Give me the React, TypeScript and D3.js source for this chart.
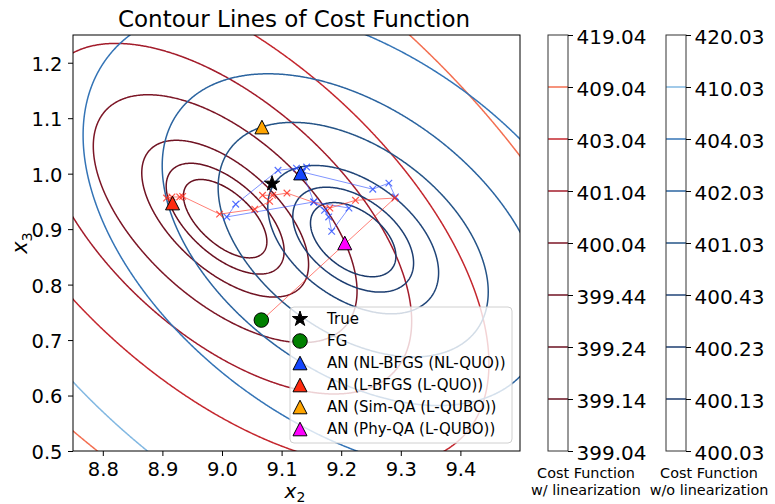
import React, { useEffect, useRef } from "react";
import * as d3 from "d3";

const size = { width: 775, height: 504 };
const frame = { left: 73, right: 520, top: 35, bottom: 451 };
const font = "DejaVu Sans";

const xDomain = [8.75, 9.5];
const yDomain = [0.5, 1.25];
const xTicks = [8.8, 8.9, 9.0, 9.1, 9.2, 9.3, 9.4];
const yTicks = [0.5, 0.6, 0.7, 0.8, 0.9, 1.0, 1.1, 1.2];

// quadratic fits of the two cost surfaces
// cost = min + kxx*dx^2 + kxy*dx*dy + kyy*dy^2
const linMin = 399.04;
const linCenter = [9.0045, 0.918];
const linCoef = [31.06, 35.99, 30.45];
const nlMin = 400.03;
const nlCenter = [9.2193, 0.8802];
const nlCoef = [24.3, 23.2, 27.9];

const linLevels = [399.14, 399.24, 399.44, 400.04, 401.04, 403.04, 409.04];
const linColors = ["#67101f", "#6a1121", "#701323", "#7c1626", "#a31c2b", "#c4272e", "#f36f51"];
const nlLevels = [400.13, 400.23, 400.43, 401.03, 402.03, 404.03, 410.03];
const nlColors = ["#1b3a6b", "#1d3e71", "#204578", "#255487", "#2b64a0", "#3474b6", "#82b8e2"];

const linTickLabels = ["399.04", "399.14", "399.24", "399.44", "400.04", "401.04", "403.04", "409.04", "419.04"];
const nlTickLabels = ["400.03", "400.13", "400.23", "400.43", "401.03", "402.03", "404.03", "410.03", "420.03"];

// iterates of the two solvers
const lbfgsX = [9.067, 9.29, 9.224, 9.181, 9.109, 9.085, 9.068, 9.08, 9.055, 8.996, 8.934, 8.929, 8.916, 8.907];
const lbfgsY = [0.736, 0.956, 0.952, 0.938, 0.965, 0.961, 0.961, 0.95, 0.936, 0.927, 0.959, 0.958, 0.958, 0.956];
const nlbfgsX = [9.291, 9.28, 9.253, 9.135, 9.154, 9.172, 9.179, 9.184, 9.213, 9.154, 9.008, 9.023, 9.094, 9.125, 9.135, 9.142];
const nlbfgsY = [0.958, 0.983, 0.972, 1.003, 0.949, 0.934, 0.922, 0.896, 0.938, 0.949, 0.922, 0.945, 1.006, 1.01, 1.006, 1.012];

const legendLabels = ["True", "FG", "AN (NL-BFGS (NL-QUO))", "AN (L-BFGS (L-QUO))", "AN (Sim-QA (L-QUBO))", "AN (Phy-QA (L-QUBO))"];
const markerKinds = ["star", "circle", "tri", "tri", "tri", "tri"];
const markerColors = ["#000000", "#008000", "#1446ff", "#ff2b0f", "#ffa500", "#ff00ff"];
const markerX = [9.084, 9.066, 9.132, 8.917, 9.067, 9.206];
const markerY = [0.982, 0.736, 1.001, 0.947, 1.084, 0.875];

function markerPath(kind: string) {
  if (kind === "star") return d3.symbol(d3.symbolStar, 72)()!;
  if (kind === "circle") return d3.symbol(d3.symbolCircle, 165)()!;
  const p = d3.path();
  p.moveTo(0, -6.8);
  p.lineTo(7, 6.8);
  p.lineTo(-7, 6.8);
  p.closePath();
  return p.toString();
}

export default function App() {
  const ref = useRef<SVGSVGElement>(null);

  useEffect(() => {
    const svg = d3.select(ref.current);
    svg.selectAll("*").remove();

    const x = d3.scaleLinear().domain(xDomain).range([frame.left, frame.right]);
    const y = d3.scaleLinear().domain(yDomain).range([frame.bottom, frame.top]);

    svg.append("rect").attr("width", size.width).attr("height", size.height).attr("fill", "#fff");

    svg
      .append("defs")
      .append("clipPath")
      .attr("id", "plot-clip")
      .append("rect")
      .attr("x", frame.left)
      .attr("y", frame.top)
      .attr("width", frame.right - frame.left)
      .attr("height", frame.bottom - frame.top);

    // contour grid, a bit larger than the axes so rings close outside the clip
    const n = 700;
    const m = 700;
    const gx = [8.55, 9.7];
    const gy = [0.3, 1.45];
    const stepX = (gx[1] - gx[0]) / (n - 1);
    const stepY = (gy[1] - gy[0]) / (m - 1);

    const field = (min: number, c: number[], k: number[]) => {
      const v = new Float64Array(n * m);
      for (let j = 0; j < m; j++) {
        const dy = gy[0] + j * stepY - c[1];
        for (let i = 0; i < n; i++) {
          const dx = gx[0] + i * stepX - c[0];
          v[i + j * n] = min + k[0] * dx * dx + k[1] * dx * dy + k[2] * dy * dy;
        }
      }
      return v;
    };

    const proj = d3.geoTransform({
      point: function (px: number, py: number) {
        this.stream.point(x(gx[0] + px * stepX), y(gy[0] + py * stepY));
      },
    });
    const path = d3.geoPath(proj);

    const plotG = svg.append("g").attr("clip-path", "url(#plot-clip)");

    const drawField = (values: Float64Array, levels: number[], colors: string[]) => {
      const cs = d3.contours().size([n, m]).thresholds(levels)(values as any);
      plotG
        .append("g")
        .selectAll("path")
        .data(cs)
        .join("path")
        .attr("d", (d: any) => path(d))
        .attr("fill", "none")
        .attr("stroke", (d, i) => colors[i])
        .attr("stroke-width", 1.5);
    };

    drawField(field(linMin, linCenter, linCoef), linLevels, linColors);
    drawField(field(nlMin, nlCenter, nlCoef), nlLevels, nlColors);

    // solver trajectories
    const traj = (xs: number[], ys: number[], color: string) => {
      const pts = xs.map((v, i) => [x(v), y(ys[i])] as [number, number]);
      plotG
        .append("path")
        .attr("d", d3.line()(pts))
        .attr("fill", "none")
        .attr("stroke", color)
        .attr("stroke-opacity", 0.6)
        .attr("stroke-width", 1);
      plotG
        .append("g")
        .selectAll("path")
        .data(pts)
        .join("path")
        .attr("d", d3.symbol(d3.symbolX, 30)())
        .attr("transform", (d) => `translate(${d[0]},${d[1]})`)
        .attr("fill", "none")
        .attr("stroke", color)
        .attr("stroke-opacity", 0.8)
        .attr("stroke-width", 1.2);
    };
    traj(nlbfgsX, nlbfgsY, "#2a4dff");
    traj(lbfgsX, lbfgsY, "#ff2a1a");

    // result markers
    markerKinds.forEach((k, i) => {
      plotG
        .append("path")
        .attr("d", markerPath(k))
        .attr("transform", `translate(${x(markerX[i])},${y(markerY[i])})`)
        .attr("fill", markerColors[i])
        .attr("stroke", "#000")
        .attr("stroke-width", 1);
    });

    // axes
    const styleAxis = (g: any, fs: number) => {
      g.attr("font-family", font).attr("font-size", fs);
      g.selectAll("text").attr("fill", "#000");
      g.selectAll("line").attr("stroke", "#000");
      g.select(".domain").remove();
    };

    svg
      .append("g")
      .attr("transform", `translate(0,${frame.bottom})`)
      .call(
        d3
          .axisBottom(x)
          .tickValues(xTicks)
          .tickFormat(d3.format(".1f"))
          .tickSize(5)
          .tickPadding(6)
      )
      .call((g) => styleAxis(g, 19.5));

    svg
      .append("g")
      .attr("transform", `translate(${frame.left},0)`)
      .call(
        d3
          .axisLeft(y)
          .tickValues(yTicks)
          .tickFormat(d3.format(".1f"))
          .tickSize(5)
          .tickPadding(5.5)
      )
      .call((g) => styleAxis(g, 19.5))
      .call((g) => g.selectAll("text").attr("dy", "0.38em"));

    svg
      .append("rect")
      .attr("x", frame.left)
      .attr("y", frame.top)
      .attr("width", frame.right - frame.left)
      .attr("height", frame.bottom - frame.top)
      .attr("fill", "none")
      .attr("stroke", "#000")
      .attr("stroke-width", 1);

    // title and axis labels
    svg
      .append("text")
      .attr("x", 294)
      .attr("y", 27)
      .attr("text-anchor", "middle")
      .attr("font-family", font)
      .attr("font-size", 23)
      .text("Contour Lines of Cost Function");

    const xl = svg
      .append("text")
      .attr("x", 295)
      .attr("y", 498)
      .attr("text-anchor", "middle")
      .attr("font-family", font)
      .attr("font-size", 20);
    xl.append("tspan").attr("font-style", "italic").text("x");
    xl.append("tspan").attr("font-size", 14).attr("dy", 4).text("2");

    const yl = svg
      .append("text")
      .attr("transform", `translate(27,${(frame.top + frame.bottom) / 2}) rotate(-90)`)
      .attr("text-anchor", "middle")
      .attr("font-family", font)
      .attr("font-size", 21);
    yl.append("tspan").attr("font-style", "italic").text("x");
    yl.append("tspan").attr("font-size", 14.5).attr("dy", 4.5).text("3");

    // colorbars
    const colorbar = (x0: number, labels: string[], levels: number[], colors: string[], caption: string[], cx: number) => {
      const cb = d3.scalePoint<string>().domain(labels).range([frame.bottom, frame.top]);
      const g = svg.append("g");
      g.append("rect")
        .attr("x", x0)
        .attr("y", frame.top)
        .attr("width", 20)
        .attr("height", frame.bottom - frame.top)
        .attr("fill", "#fff");
      g.selectAll("line.lvl")
        .data(levels)
        .join("line")
        .attr("class", "lvl")
        .attr("x1", x0)
        .attr("x2", x0 + 20)
        .attr("y1", (d) => cb(d.toFixed(2))!)
        .attr("y2", (d) => cb(d.toFixed(2))!)
        .attr("stroke", (d, i) => colors[i])
        .attr("stroke-width", 1.5);
      g.append("rect")
        .attr("x", x0)
        .attr("y", frame.top)
        .attr("width", 20)
        .attr("height", frame.bottom - frame.top)
        .attr("fill", "none")
        .attr("stroke", "#333")
        .attr("stroke-width", 1);
      g.append("g")
        .attr("transform", `translate(${x0 + 20},0)`)
        .call(d3.axisRight(cb).tickSize(5).tickPadding(3.5))
        .call((a) => styleAxis(a, 20))
        .call((a) => a.selectAll("text").attr("dy", "0.4em"));
      caption.forEach((c, i) => {
        svg
          .append("text")
          .attr("x", cx)
          .attr("y", 478 + i * 17)
          .attr("text-anchor", "middle")
          .attr("font-family", font)
          .attr("font-size", 14.4)
          .text(c);
      });
    };
    colorbar(548, linTickLabels, linLevels, linColors, ["Cost Function", "w/ linearization"], 586);
    colorbar(666, nlTickLabels, nlLevels, nlColors, ["Cost Function", "w/o linearization"], 709);

    // legend
    const lg = svg.append("g");
    lg.append("rect")
      .attr("x", 290)
      .attr("y", 307)
      .attr("width", 222)
      .attr("height", 136)
      .attr("rx", 4)
      .attr("fill", "#fff")
      .attr("fill-opacity", 0.8)
      .attr("stroke", "#d0d0d0")
      .attr("stroke-width", 1);
    const rowY = d3.scalePoint<string>().domain(legendLabels).range([319, 429]);
    legendLabels.forEach((lab, i) => {
      const cy = rowY(lab)!;
      lg.append("path")
        .attr("d", markerPath(markerKinds[i]))
        .attr("transform", `translate(300,${cy})`)
        .attr("fill", markerColors[i])
        .attr("stroke", "#000")
        .attr("stroke-width", 1);
      lg.append("text")
        .attr("x", 327)
        .attr("y", cy + 5.4)
        .attr("font-family", font)
        .attr("font-size", 15)
        .text(lab);
    });
  }, []);

  return (
    <svg
      ref={ref}
      width={size.width}
      height={size.height}
      style={{ position: "absolute", left: 0, top: 0, display: "block" }}
    ></svg>
  );
}
